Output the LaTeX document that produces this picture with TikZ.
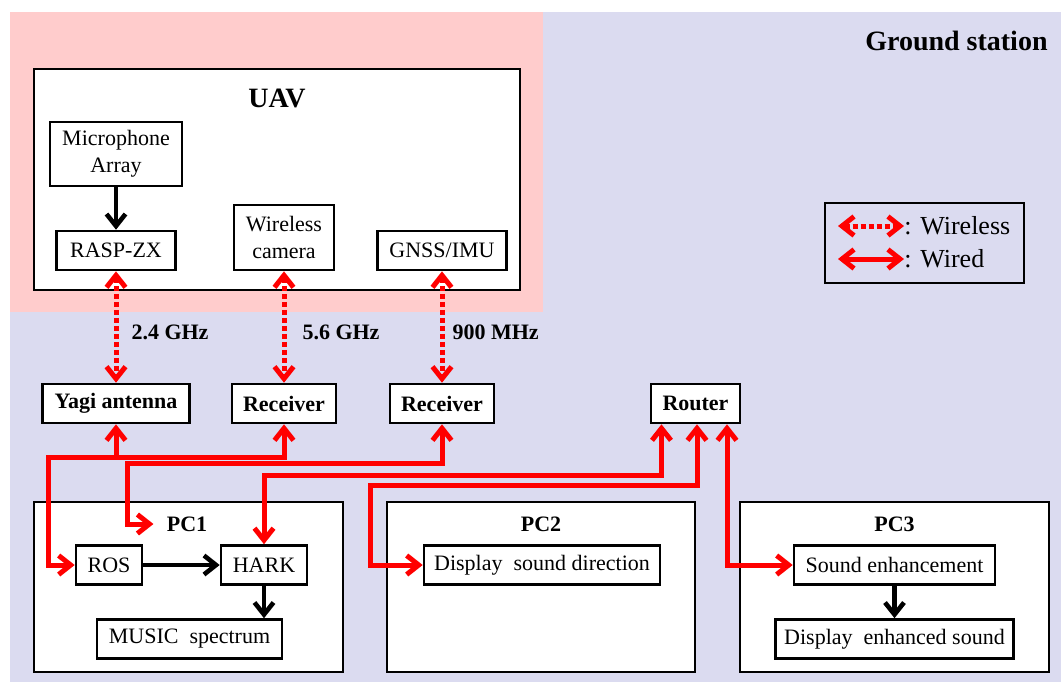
\documentclass[tikz,border=0pt]{standalone}
\usepackage{xcolor}
\usepackage{fontspec}
\setmainfont{Liberation Serif}
\usetikzlibrary{arrows.meta}
\definecolor{uavpink}{RGB}{255,204,204}
\definecolor{gndblue}{RGB}{219,219,240}

\begin{document}
\begin{tikzpicture}
	[x=0.5pt, y=-0.5pt,
	 font=\fontsize{11}{13.5}\selectfont,
	 >={Straight Barb[length=6pt,width=9.5pt]},
	 block/.style ={rectangle, draw=black, line width=1.3pt, fill=white, inner sep=0pt, align=center, minimum height=19.5pt},
	 frame/.style ={rectangle, draw=black, line width=1.3pt, fill=white, inner sep=0pt, minimum height=85pt},
	 head/.style ={font=\fontsize{11}{13.5}\selectfont\bfseries, inner sep=0pt},
	 title/.style ={font=\fontsize{14}{16}\selectfont\bfseries, inner sep=0pt},
	 wire/.style ={draw=red, line width=2.5pt},
	 radio/.style ={wire, dash pattern=on 2.5pt off 1.5pt},
	 flow/.style ={draw=black, line width=2.3pt, ->}]
	\useasboundingbox (0,0) rectangle (1061,682);
	% areas
	\fill[gndblue] (10,12) rectangle (1061,682);
	\fill[uavpink] (10,12) rectangle (543,312);
	\node[title, anchor=east] (gs) at (1048,41) {Ground station};

	% UAV side
	\node[frame, minimum width=243pt, minimum height=110.5pt] (uav) at (277,179.5) {};
	\node[title] (uavt) at (277,98) {UAV};
	\node[block, minimum width=66pt, minimum height=32pt] (mic) at (116,154) {Microphone\\Array};
	\node[block, minimum width=59.5pt] (rasp) at (116,250.5) {RASP-ZX};
	\node[block, minimum width=50pt, minimum height=32.5pt] (cam) at (284,237.5) {Wireless\\camera};
	\node[block, minimum width=64.5pt] (gnss) at (442,250.5) {GNSS/IMU};

	% ground side
	\node[block, head, minimum width=73.5pt] (yagi) at (116,403.5) {Yagi antenna};
	\node[block, head, minimum width=52pt] (recA) at (284,403.5) {Receiver};
	\node[block, head, minimum width=52pt] (recB) at (442,403.5) {Receiver};
	\node[block, head, minimum width=44.5pt] (router) at (695.5,403.5) {Router};

	\node[frame, minimum width=154.5pt] (pc1) at (188.5,587) {};
	\node[head] (pc1t) at (187,524) {PC1};
	\node[block, minimum width=33pt] (ros) at (109,565) {ROS};
	\node[block, minimum width=43pt] (hark) at (264,565) {HARK};
	\node[block, minimum width=92.5pt] (music) at (189.5,639) {MUSIC\ \ spectrum};

	\node[frame, minimum width=154pt] (pc2) at (541,587) {};
	\node[head] (pc2t) at (541,524) {PC2};
	\node[block, minimum width=118pt] (disp) at (542,565) {Display\ \ sound direction};

	\node[frame, minimum width=154.5pt] (pc3) at (894.5,587) {};
	\node[head] (pc3t) at (894.5,524) {PC3};
	\node[block, minimum width=100.5pt] (enh) at (894.5,565) {Sound enhancement};
	\node[block, minimum width=119pt] (disen) at (894.5,639) {Display\ \ enhanced sound};

	% legend
	\node[frame, fill=gndblue, minimum width=99.5pt, minimum height=40pt] (leg) at (924.5,243) {};
	\node[anchor=west, inner sep=0pt, font=\fontsize{13}{15}\selectfont] (lwl) at (904,226) {: Wireless};
	\node[anchor=west, inner sep=0pt, font=\fontsize{13}{15}\selectfont] (lwd) at (904,259) {: Wired};
	\coordinate (lwlA) at (838,226);
	\coordinate (lwdA) at (838,259);
	\draw[radio,<->] (lwlA) -- (lwl.west);
	\draw[wire,<->] (lwdA) -- (lwd.west);

	% black flows
	\draw[flow] (mic) -- (rasp);
	\draw[flow] (ros) -- (hark);
	\draw[flow] (hark.south) -- (hark.south |- music.north);
	\draw[flow] (enh) -- (disen);

	% wireless links
	\draw[radio,<->] (rasp.south) -- node[head, pos=.55, right=6.5pt] (f24) {2.4 GHz} (yagi.north);
	\draw[radio,<->] (cam.south) -- node[head, pos=.55, right=8pt] (f56) {5.6 GHz} (recA.north);
	\draw[radio,<->] (gnss.south) -- node[head, pos=.55, right=4pt] (f900) {900 MHz} (recB.north);

	% wired links
	\coordinate (busA) at (48,457);
	\coordinate (busB) at (127,463);
	\coordinate (lvlC) at (0,475);
	\coordinate (busD) at (370,485);
	\draw[wire,<->] (yagi.south) |- (busA) |- (ros.west);
	\draw[wire,->] (yagi.south |- busA) -| (recA.south);
	\draw[wire,<->] (recB.south) |- (busB) |- ([xshift=-6.5pt]pc1t.west);
	\draw[wire,<->] ([xshift=-17pt]router.south) |- (hark.north |- lvlC) -- (hark.north);
	\draw[wire,<->] ([xshift=0.75pt]router.south) |- (busD) |- (disp.west);
	\draw[wire,<->] ([xshift=15.75pt]router.south) |- (enh.west);
\end{tikzpicture}
\end{document}
